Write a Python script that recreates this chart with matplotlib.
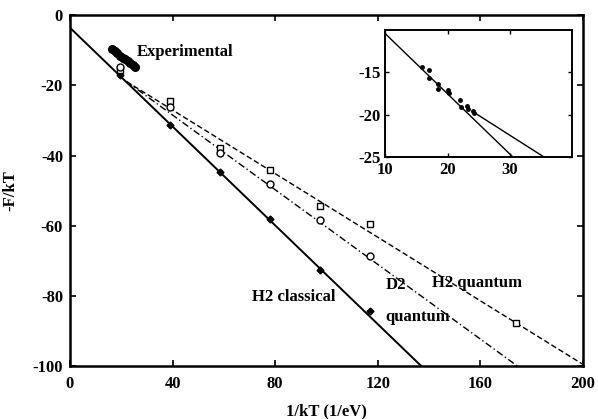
import numpy as np
import matplotlib
matplotlib.use('Agg')
import matplotlib.pyplot as plt

plt.rcParams['font.family'] = ['Liberation Serif', 'DejaVu Serif']
plt.rcParams['font.weight'] = 'bold'
plt.rcParams['axes.unicode_minus'] = False

# Calculated points, 1/kT (1/eV)
x_calc = [19.5, 39, 58.5, 78, 97.5, 117]
h2_classical = [-17.0, -31.2, -44.8, -58.2, -72.5, -84.4]
d2_quantum = [-14.7, -26.3, -39.2, -48.0, -58.4, -68.6]
x_h2q = [19.5, 39, 58.5, 78, 97.5, 117, 174]
h2_quantum = [-15.6, -24.4, -37.8, -44.2, -54.4, -59.5, -87.8]

# Experimental values
x_exp = [16.5, 17.5, 18.5, 19.5, 20.5, 21.5, 22.5, 23.5, 24.5, 25.5]
y_exp = [-9.6, -10.3, -10.9, -11.6, -12.1, -12.6, -13.2, -13.7, -14.3, -14.9]

# Fitted lines (end points)
fit_classical_x = [0, 137]
fit_classical_y = [-3.6, -100]
fit_h2q_x = [22, 200]
fit_h2q_y = [-18.9, -99.5]
fit_d2q_x = [22, 174.5]
fit_d2q_y = [-18.9, -100]

# Inset data
ins_x_exp = [15.9, 17.1, 17.0, 18.5, 18.5, 20.0, 20.2, 22.0, 22.2, 23.1, 23.3, 24.1, 24.3]
ins_y_exp = [-14.4, -14.7, -15.6, -16.4, -17.0, -17.1, -17.4, -18.2, -19.1, -19.0, -19.3, -19.5, -19.8]
ins_line1_x = [10, 30.5]
ins_line1_y = [-10.4, -25]
ins_line2_x = [24, 35.5]
ins_line2_y = [-19.6, -25]

fig = plt.figure(figsize=(5.98, 4.19), dpi=100)
ax = fig.add_axes([0.117, 0.126, 0.858, 0.838])

ax.plot(fit_classical_x, fit_classical_y, color='black', lw=1.4)
ax.plot(fit_h2q_x, fit_h2q_y, color='black', lw=1.0, ls=(0, (4, 2)))
ax.plot(fit_d2q_x, fit_d2q_y, color='black', lw=1.0, ls=(0, (5, 2, 1, 2)))

ax.plot(x_calc, h2_classical, 'D', color='black', ms=3.5, ls='none')
ax.plot(x_h2q, h2_quantum, 's', mfc='white', mec='black', mew=1.0, ms=5, ls='none')
ax.plot(x_calc, d2_quantum, 'o', mfc='white', mec='black', mew=1.0, ms=5, ls='none')
ax.plot(x_exp, y_exp, 'o', color='black', ms=5.5, ls='none')

ax.text(26, -10.6, 'Experimental', fontsize=12, fontweight='bold', va='center')
ax.text(71, -80.3, 'H2 classical', fontsize=12, fontweight='bold', va='center')
ax.text(123, -77, 'D2', fontsize=12, fontweight='bold', va='center')
ax.text(123, -86, 'quantum', fontsize=12, fontweight='bold', va='center')
ax.text(141, -76.3, 'H2 quantum', fontsize=12, fontweight='bold', va='center')

ax.set_xlim(0, 200)
ax.set_ylim(-100, 0)
ax.set_xticks([0, 40, 80, 120, 160, 200])
ax.set_yticks([0, -20, -40, -60, -80, -100])
ax.tick_params(direction='in', top=True, right=True, length=4, width=1.2, labelsize=12)
ax.tick_params(axis='x', pad=7)
ax.tick_params(axis='y', pad=5)
for lbl in ax.get_xticklabels() + ax.get_yticklabels():
    lbl.set_fontweight('bold')
for s in ax.spines.values():
    s.set_linewidth(1.8)
ax.set_xlabel('1/kT (1/eV)', fontsize=12, fontweight='bold', labelpad=8)
ax.set_ylabel('-F/kT', fontsize=12, fontweight='bold', labelpad=10)

# Inset
axi = fig.add_axes([0.644, 0.625, 0.313, 0.303])
axi.plot(ins_line1_x, ins_line1_y, color='black', lw=1.0)
axi.plot(ins_line2_x, ins_line2_y, color='black', lw=1.0)
axi.plot(ins_x_exp, ins_y_exp, 'o', color='black', ms=2.5, ls='none')
axi.set_xlim(10, 40)
axi.set_ylim(-25, -10)
axi.set_xticks([10, 20, 30])
axi.set_yticks([-15, -20, -25])
axi.tick_params(direction='in', top=True, right=True, length=3, width=1.0, labelsize=12)
for lbl in axi.get_xticklabels() + axi.get_yticklabels():
    lbl.set_fontweight('bold')
for s in axi.spines.values():
    s.set_linewidth(1.4)

fig.savefig('out.png', dpi=100)
